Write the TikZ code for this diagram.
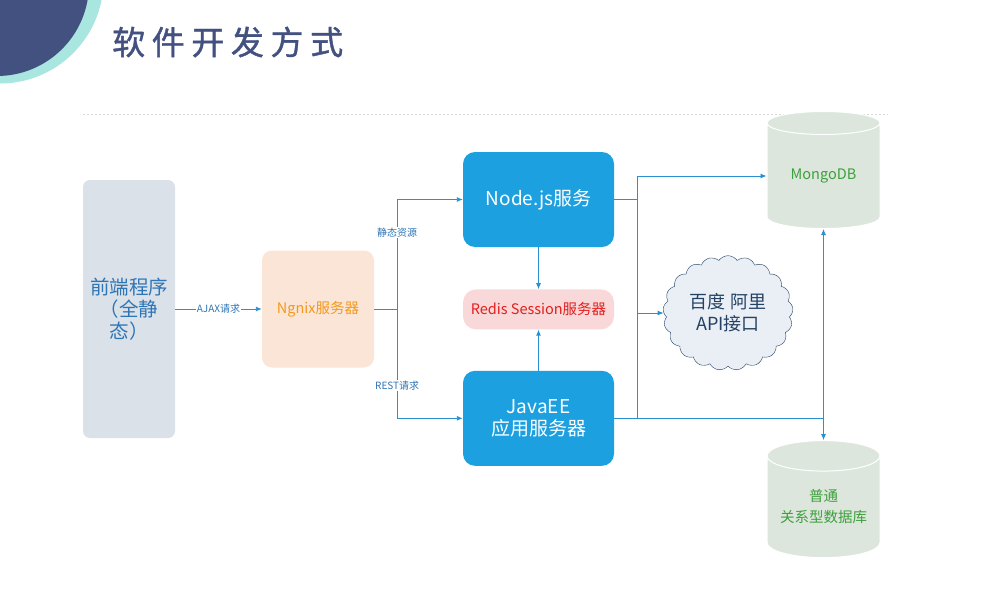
\documentclass[tikz,border=0pt]{standalone}
\usepackage{fontspec}
\setmainfont{Noto Sans CJK SC}
\newfontfamily\titlefont[LetterSpace=20,FakeBold=1.2]{Noto Sans CJK SC}
\usetikzlibrary{positioning,shapes.geometric,shapes.symbols,arrows.meta}

\definecolor{navy}{RGB}{67,81,128}
\definecolor{ringteal}{RGB}{170,230,224}
\definecolor{linkblue}{RGB}{41,145,209}
\definecolor{svcblue}{RGB}{29,160,224}
\definecolor{frontfill}{RGB}{218,225,233}
\definecolor{fronttext}{RGB}{46,117,182}
\definecolor{ngfill}{RGB}{251,229,214}
\definecolor{ngtext}{RGB}{242,153,30}
\definecolor{redisfill}{RGB}{248,216,216}
\definecolor{redistext}{RGB}{228,30,30}
\definecolor{dbfill}{RGB}{220,230,220}
\definecolor{dbtext}{RGB}{60,160,60}
\definecolor{cloudfill}{RGB}{234,239,245}
\definecolor{cloudline}{RGB}{35,65,100}

\begin{document}
\begin{tikzpicture}[x=1pt, y=-1pt,
% node styles
box/.style={rectangle, rounded corners=10pt, inner sep=0pt, align=center},
front/.style={box, fill=frontfill, text=fronttext, rounded corners=7pt, minimum width=92pt, minimum height=258pt, font=\fontsize{19.5}{22}\selectfont},
ngnix/.style={box, fill=ngfill, text=ngtext, minimum width=112pt, minimum height=117pt, font=\fontsize{14.5}{17}\selectfont},
svc/.style={box, fill=svcblue, text=white, rounded corners=12pt, minimum width=151pt, minimum height=95pt, font=\fontsize{19}{22}\selectfont},
redis/.style={box, fill=redisfill, text=redistext, rounded corners=13pt, minimum width=151pt, minimum height=40pt, font=\fontsize{14.5}{16}\selectfont},
db/.style={cylinder, shape border rotate=90, aspect=0.35, draw=white, line width=1pt, fill=dbfill, text=dbtext, minimum width=113pt, minimum height=117pt, inner sep=0pt, align=center, font=\fontsize{14.5}{21}\selectfont},
api/.style={cloud, cloud puffs=21, cloud puff arc=110, draw=cloudline, fill=cloudfill, text=cloudline, minimum width=130pt, minimum height=88pt, inner sep=0pt, align=center, font=\fontsize{18}{22}\selectfont},
link/.style={draw=linkblue, line width=0.9pt},
arr/.style={link, -{Latex[length=6pt,width=5pt]}},
lbl/.style={fill=white, text=fronttext, inner sep=1pt, font=\fontsize{10}{12}\selectfont}
]
\useasboundingbox (0,0) rectangle (981,594);

% corner and title
\begin{scope}
\clip (0,0) rectangle (981,594);
\fill[ringteal] (0,-20) circle[radius=103.5pt];
\fill[navy] (-3,-16) circle[radius=92pt];
\end{scope}
\node[text=navy, anchor=west, inner sep=0pt, font=\titlefont\fontsize{33}{36}\selectfont] (title) at (112,42) {软件开发方式};
\draw[black!15, dash pattern=on 2pt off 2pt] (83,114) -- (888,114);

% nodes
\node[front] (front) at (129,309) {前端程序\\（全静\\态）};
\node[ngnix] (ngnix) at (318,309) {Ngnix服务器};
\node[svc] (nodejs) at (538.5,199.5) {Node.js服务};
\node[redis] (redis) [below=42pt of nodejs] {Redis Session服务器};
\node[svc] (javaee) [below=41pt of redis] {JavaEE\\应用服务器};
\node[db] (mongo) at (823.5,176) {MongoDB};
\node[db] (rdb) at (823.5,507) {普通\\关系型数据库};
\node[api] (api) at (728,313) {百度 阿里\\API接口};

% branch points
\coordinate (split1) at ([xshift=23pt]ngnix.east);
\coordinate (split2) at ([xshift=23pt]nodejs.east);
\coordinate (split3) at (mongo.south |- javaee.east);

% draw lines between nodes
\draw[arr] (front) -- node[lbl] {AJAX请求} (ngnix);
\draw[link] (ngnix) -- (split1);
\draw[arr] (split1) |- node[lbl, pos=0.35] {静态资源} (nodejs);
\draw[arr] (split1) |- node[lbl, pos=0.35] {REST请求} (javaee);
\draw[arr] (nodejs) -- (redis);
\draw[arr] (javaee) -- (redis);
\draw[link] (nodejs) -- (split2);
\draw[arr] (split2) |- (mongo);
\draw[arr] (split2) |- (api);
\draw[link] (split2) -- (split2 |- javaee.east);
\draw[link] (javaee) -- (split3);
\draw[arr] (split3) -- (mongo);
\draw[arr] (split3) -- (rdb);

\end{tikzpicture}
\end{document}
